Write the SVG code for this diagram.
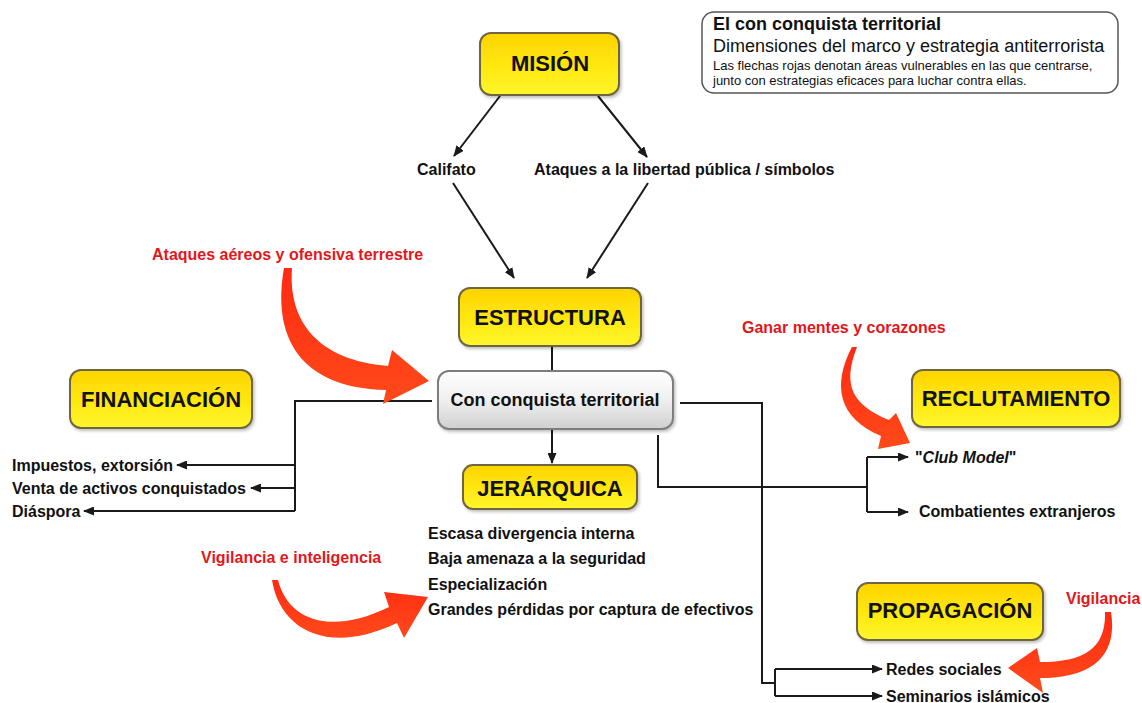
<svg xmlns="http://www.w3.org/2000/svg" width="1142" height="703" viewBox="0 0 1142 703">
<style>
text{font-family:"Liberation Sans",Arial,sans-serif;}
.node{font-weight:bold;font-size:22px;fill:#111;text-anchor:middle;}
.lbl{font-weight:bold;font-size:16px;fill:#111;}
.red{font-weight:bold;font-size:16px;fill:#e3161b;}
.ybox{fill:url(#yg);stroke:#6e6640;stroke-width:2;filter:url(#sh);}
.gbox{fill:url(#gg);stroke:#7d7d7d;stroke-width:2;filter:url(#sh);}
.ln{fill:none;stroke:#1a1a1a;stroke-width:2;}
.ar{fill:none;stroke:#1a1a1a;stroke-width:2;marker-end:url(#ah);}
.rarrow{fill:url(#rg);}
</style>
<defs>
<linearGradient id="yg" x1="0" y1="0" x2="0" y2="1">
<stop offset="0" stop-color="#ffd400"/>
<stop offset="0.55" stop-color="#ffe810"/>
<stop offset="1" stop-color="#fff62e"/>
</linearGradient>
<linearGradient id="gg" x1="0" y1="0" x2="0" y2="1">
<stop offset="0" stop-color="#ffffff"/>
<stop offset="0.5" stop-color="#f0f0f0"/>
<stop offset="1" stop-color="#cfcfcf"/>
</linearGradient>
<linearGradient id="rg" x1="0" y1="0" x2="0" y2="1">
<stop offset="0" stop-color="#ff2a12"/>
<stop offset="1" stop-color="#ff4a1a"/>
</linearGradient>
<filter id="sh" x="-10%" y="-10%" width="125%" height="135%">
<feDropShadow dx="1.5" dy="2" stdDeviation="1.5" flood-color="#000" flood-opacity="0.25"/>
</filter>
<marker id="ah" markerUnits="userSpaceOnUse" markerWidth="11" markerHeight="9" refX="10" refY="4.5" orient="auto">
<path d="M0,0 L11,4.5 L0,9 Z" fill="#1a1a1a"/>
</marker>
</defs>

<g id="legend">
<rect x="702" y="12" width="416" height="81" rx="12" fill="#fff" stroke="#555" stroke-width="1.5"/>
<text x="713" y="30" style="font-weight:bold;font-size:18px;fill:#111">El con conquista territorial</text>
<text x="713" y="52" style="font-size:18px;fill:#111">Dimensiones del marco y estrategia antiterrorista</text>
<text x="713" y="70" style="font-size:13px;fill:#111">Las flechas rojas denotan áreas vulnerables en las que centrarse,</text>
<text x="713" y="85" style="font-size:13px;fill:#111">junto con estrategias eficaces para luchar contra ellas.</text>
</g>

<g id="connectors">
<path class="ar" d="M500,96 L454,156"/>
<path class="ar" d="M598,96 L647,157"/>
<path class="ar" d="M453,183 L514,278"/>
<path class="ar" d="M648,183 L587,278"/>
<path class="ln" d="M552,347 L552,370"/>
<path class="ar" d="M552,430 L552,463"/>
<path class="ln" d="M432,401 L295,401 L295,511"/>
<path class="ar" d="M295,465 L177,465"/>
<path class="ar" d="M295,488 L251,488"/>
<path class="ar" d="M295,511 L84,511"/>
<path class="ln" d="M680,403 L762,403 L762,683 L775,683"/>
<path class="ln" d="M775,669 L775,696"/>
<path class="ar" d="M775,669 L882,669"/>
<path class="ar" d="M775,696 L882,696"/>
<path class="ln" d="M658,435 L658,487 L867,487"/>
<path class="ln" d="M867,457 L867,512"/>
<path class="ar" d="M867,457 L908,457"/>
<path class="ar" d="M867,512 L908,512"/>
</g>

<g id="mision">
<rect class="ybox" x="480" y="33" width="139" height="62" rx="11"/>
<text class="node" x="550" y="71">MISIÓN</text>
</g>
<g id="califato"><text class="lbl" x="417" y="175">Califato</text></g>
<g id="ataques"><text class="lbl" x="534" y="175">Ataques a la libertad pública / símbolos</text></g>

<g id="estructura">
<rect class="ybox" x="459" y="288" width="182" height="58" rx="11"/>
<text class="node" x="550" y="325">ESTRUCTURA</text>
</g>

<g id="con-conquista">
<rect class="gbox" x="438" y="371" width="235" height="58" rx="11"/>
<text x="555" y="406" style="font-weight:bold;font-size:18px;fill:#111;text-anchor:middle">Con conquista territorial</text>
</g>

<g id="jerarquica">
<rect class="ybox" x="463" y="465" width="174" height="44" rx="10"/>
<text class="node" x="550" y="496">JERÁRQUICA</text>
</g>
<g id="jerarquica-items">
<text class="lbl" x="428" y="539">Escasa divergencia interna</text>
<text class="lbl" x="428" y="564">Baja amenaza a la seguridad</text>
<text class="lbl" x="428" y="590">Especialización</text>
<text class="lbl" x="428" y="615">Grandes pérdidas por captura de efectivos</text>
</g>

<g id="financiacion">
<rect class="ybox" x="70" y="370" width="182" height="58" rx="11"/>
<text class="node" x="161" y="407">FINANCIACIÓN</text>
</g>
<g id="financiacion-items">
<text class="lbl" x="12" y="471">Impuestos, extorsión</text>
<text class="lbl" x="12" y="494">Venta de activos conquistados</text>
<text class="lbl" x="12" y="517">Diáspora</text>
</g>

<g id="reclutamiento">
<rect class="ybox" x="912" y="370" width="208" height="57" rx="11"/>
<text class="node" x="1016" y="406">RECLUTAMIENTO</text>
</g>
<g id="reclutamiento-items">
<text class="lbl" x="915" y="463">"<tspan font-style="italic">Club Model</tspan>"</text>
<text class="lbl" x="919" y="517">Combatientes extranjeros</text>
</g>

<g id="propagacion">
<rect class="ybox" x="857" y="583" width="186" height="57" rx="11"/>
<text class="node" x="950" y="618">PROPAGACIÓN</text>
</g>
<g id="propagacion-items">
<text class="lbl" x="886" y="675">Redes sociales</text>
<text class="lbl" x="886" y="702">Seminarios islámicos</text>
</g>

<g id="red-arrow-ataques">
<text class="red" x="152" y="260">Ataques aéreos y ofensiva terrestre</text>
<path class="rarrow" d="M292,268 C288,322 318,360 388,366 L392,350 L429,381 L383,404 L386,390 C298,388 272,335 284,268 Z"/>
</g>
<g id="red-arrow-ganar">
<text class="red" x="742" y="333">Ganar mentes y corazones</text>
<path class="rarrow" d="M857,347 C842,385 852,405 889,420 L896,413 L910,443 L878,449 L881,436 C838,418 832,385 852,347 Z"/>
</g>
<g id="red-arrow-vigilancia-int">
<text class="red" x="201" y="563">Vigilancia e inteligencia</text>
<path class="rarrow" d="M278,580 C288,620 330,636 389,607 L384,592 L428,597 L404,638 L397,623 C328,656 280,630 272,580 Z"/>
</g>
<g id="red-arrow-vigilancia">
<text class="red" x="1066" y="604">Vigilancia</text>
<path class="rarrow" d="M1111,612 C1118,656 1092,678 1040,678 L1043,693 L1008,668 L1037,648 L1040,662 C1085,662 1106,648 1105,612 Z"/>
</g>
</svg>
